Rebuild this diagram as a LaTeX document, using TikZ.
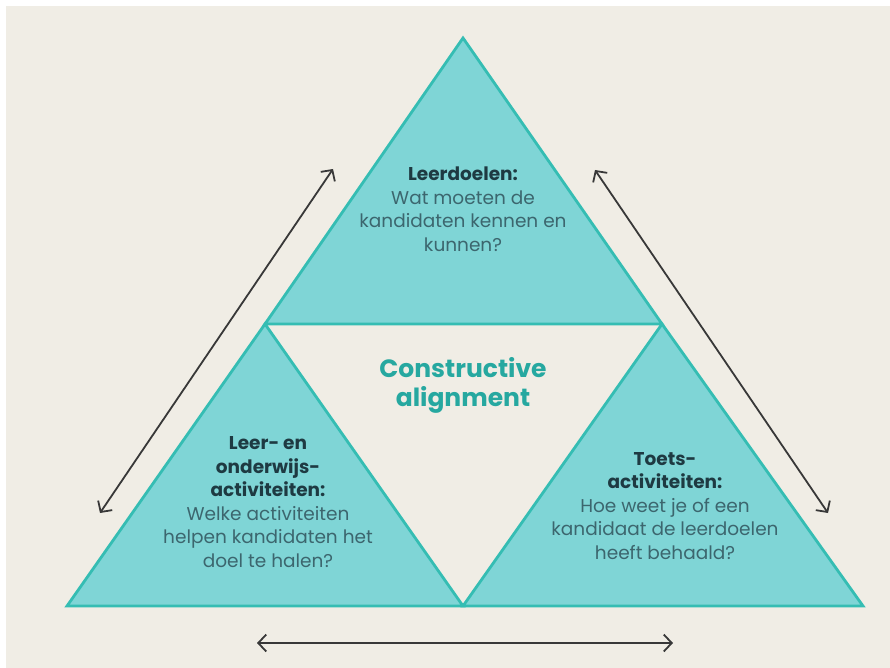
\documentclass[tikz,border=0pt]{standalone}
\usepackage{fontspec}
\setmainfont{Poppins}
\usetikzlibrary{arrows.meta}
\definecolor{beige}{RGB}{240, 237, 229}
\definecolor{tealfill}{RGB}{127, 213, 214}
\definecolor{tealline}{RGB}{53, 189, 179}
\definecolor{tealtext}{RGB}{38, 168, 160}
\definecolor{darktext}{RGB}{30, 58, 66}
\definecolor{softtext}{RGB}{60, 102, 110}
\tikzstyle{part}=[fill=tealfill,draw=tealline,line width=2.8pt,line join=miter]
\tikzstyle{parttext}=[align=center,text=softtext,font=\fontsize{18.5}{23.5}\selectfont]
\tikzstyle{centertext}=[align=center,text=tealtext,font=\fontsize{25}{29}\selectfont\bfseries]
\tikzstyle{alignarc}=[<->,>={Straight Barb[length=8pt,width=17pt]},line width=1.8pt,draw=black!78]

\begin{document}
\begin{tikzpicture}[x=1pt,y=-1pt]

\useasboundingbox (0,0) rectangle (890,668);
\fill[white] (0,0) rectangle (890,668);
\fill[beige] (6,6) rectangle (890,668);

\coordinate (APEX) at (463,38);
\coordinate (ML) at (265,324);
\coordinate (MR) at (662,324);
\coordinate (BL) at (67,606);
\coordinate (BM) at (463,606);
\coordinate (BR) at (863,606);

\draw[part] (APEX) -- (MR) -- (ML) -- cycle;
\draw[part] (ML) -- (BM) -- (BL) -- cycle;
\draw[part] (MR) -- (BR) -- (BM) -- cycle;

\node[parttext] (GOALS) at (463,209) {\textbf{\color{darktext}Leerdoelen:}\\Wat moeten de\\kandidaten kennen en\\kunnen?};
\node[parttext] (LEARN) at (268,502) {\textbf{\color{darktext}Leer- en}\\\textbf{\color{darktext}onderwijs-}\\\textbf{\color{darktext}activiteiten:}\\Welke activiteiten\\helpen kandidaten het\\doel te halen?};
\node[parttext] (TEST) at (665,506) {\textbf{\color{darktext}Toets-}\\\textbf{\color{darktext}activiteiten:}\\Hoe weet je of een\\kandidaat de leerdoelen\\heeft behaald?};
\node[centertext] (CA) at (463,385) {Constructive\\alignment};

\coordinate (L1) at (100,513);
\coordinate (L2) at (333,169);
\coordinate (R1) at (595,170);
\coordinate (R2) at (828,513);
\coordinate (B1) at (257,643);
\coordinate (B2) at (673,643);

\draw[alignarc] (L1) -- (L2);
\draw[alignarc] (R1) -- (R2);
\draw[alignarc] (B1) -- (B2);

\end{tikzpicture}
\end{document}
